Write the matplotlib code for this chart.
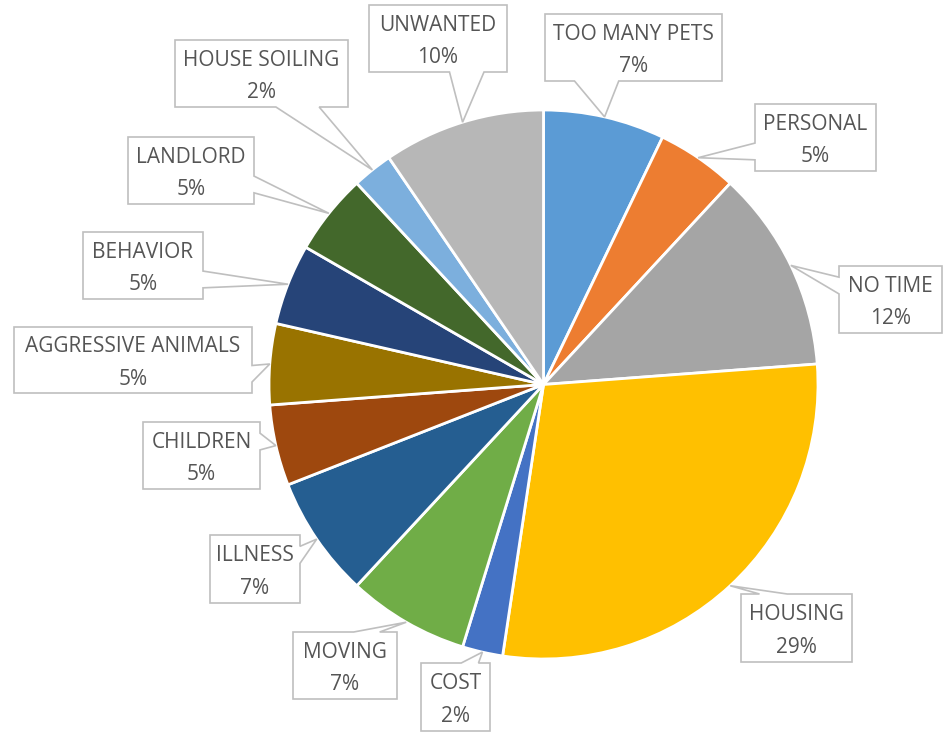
import matplotlib.pyplot as plt
import numpy as np
from matplotlib.patches import Polygon

categories = ['TOO MANY PETS', 'PERSONAL', 'NO TIME', 'HOUSING', 'COST', 'MOVING',
              'ILLNESS', 'CHILDREN', 'AGGRESSIVE ANIMALS', 'BEHAVIOR', 'LANDLORD',
              'HOUSE SOILING', 'UNWANTED']
counts = [3, 2, 5, 12, 1, 3, 3, 2, 2, 2, 2, 1, 4]
colors = ['#5B9BD5', '#ED7D31', '#A5A5A5', '#FFC000', '#4472C4', '#70AD47',
          '#255E91', '#9E480E', '#997300', '#264478', '#43682B', '#7CAFDD', '#B7B7B7']

# label boxes in pixel coords (left, top, right, bottom), y going down
label_boxes = [(545, 14, 722, 81), (755, 104, 876, 171), (839, 266, 942, 333),
               (741, 594, 852, 662), (421, 663, 490, 731), (293, 632, 397, 699),
               (210, 535, 300, 603), (143, 422, 260, 489), (14, 327, 252, 393),
               (83, 232, 203, 299), (128, 137, 254, 204), (175, 40, 348, 107),
               (369, 5, 507, 72)]

W, H = 943, 734
center = (543.5, 384.5)
radius = 274.5


def callout(box, tip):
    # rectangle with a wedge pointing at tip (like Office's wedgeRectCallout)
    l, t, r, b = box
    px, py = tip
    w, h = r - l, b - t
    dx = px - (l + r) / 2
    dy = py - (t + b) / 2
    x1 = l + w * (7 if dx > 0 else 2) / 12
    x2 = l + w * (10 if dx > 0 else 5) / 12
    y1 = t + h * (7 if dy > 0 else 2) / 12
    y2 = t + h * (10 if dy > 0 else 5) / 12
    if abs(dy) - abs(dx * h / w) > 0:
        if dy < 0:
            pts = [(l, t), (x1, t), (px, py), (x2, t), (r, t), (r, b), (l, b)]
        else:
            pts = [(l, t), (r, t), (r, b), (x2, b), (px, py), (x1, b), (l, b)]
    else:
        if dx < 0:
            pts = [(l, t), (r, t), (r, b), (l, b), (l, y2), (px, py), (l, y1)]
        else:
            pts = [(l, t), (r, t), (r, y1), (px, py), (r, y2), (r, b), (l, b)]
    return pts


fig = plt.figure(figsize=(W / 100, H / 100), dpi=100)
ax = fig.add_axes([0, 0, 1, 1])

# y axis is inverted below, so counterclock=True runs clockwise on screen
wedges, _ = ax.pie(counts, colors=colors, startangle=-90, counterclock=True,
                   center=center, radius=radius,
                   wedgeprops=dict(edgecolor='white', linewidth=2))

ax.set_xlim(0, W)
ax.set_ylim(H, 0)
ax.set_aspect('auto')
ax.axis('off')

total = sum(counts)
for wdg, cat, n, box in zip(wedges, categories, counts, label_boxes):
    mid = np.deg2rad((wdg.theta1 + wdg.theta2) / 2)
    tip = (center[0] + radius * np.cos(mid), center[1] + radius * np.sin(mid))
    poly = Polygon(callout(box, tip), closed=True, facecolor='white',
                   edgecolor='#BFBFBF', linewidth=1.2, zorder=5)
    ax.add_patch(poly)
    l, t, r, b = box
    ax.text((l + r) / 2, (t + b) / 2 + 3, f'{cat}\n{n / total * 100:.0f}%',
            ha='center', va='center', fontsize=15, family='Open Sans',
            color='#555555', linespacing=1.7, zorder=6)

fig.savefig('out.png', dpi=100)
